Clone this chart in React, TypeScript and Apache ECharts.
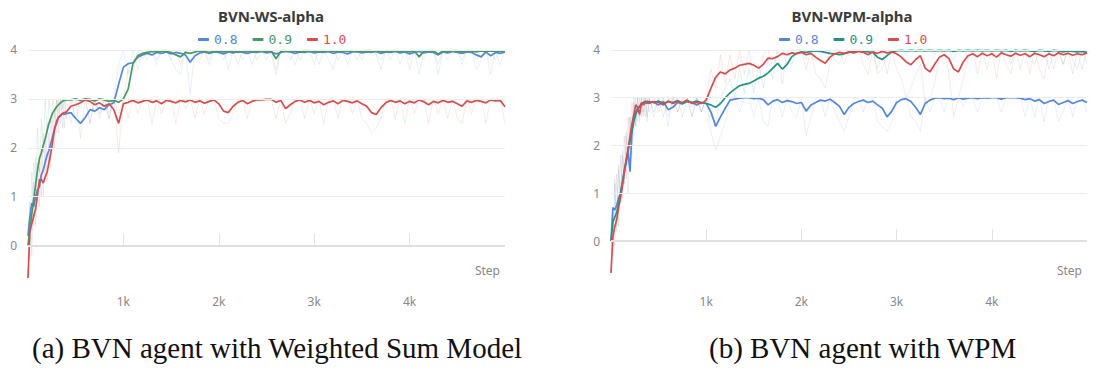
import React, { useEffect, useRef } from "react";
import * as echarts from "echarts";

const STEPS = [
  0, 20, 40, 60, 80, 100, 120, 140, 160, 180, 200, 220, 240, 260, 280, 300, 320, 340, 360, 380, 400,
  450, 500, 550, 600, 650, 700, 750, 800, 850, 900,
  950, 1000, 1050, 1100, 1150, 1200, 1250, 1300, 1350, 1400,
  1450, 1500, 1550, 1600, 1650, 1700, 1750, 1800, 1850, 1900,
  1950, 2000, 2050, 2100, 2150, 2200, 2250, 2300, 2350, 2400,
  2450, 2500, 2550, 2600, 2650, 2700, 2750, 2800, 2850, 2900,
  2950, 3000, 3050, 3100, 3150, 3200, 3250, 3300, 3350, 3400,
  3450, 3500, 3550, 3600, 3650, 3700, 3750, 3800, 3850, 3900,
  3950, 4000, 4050, 4100, 4150, 4200, 4250, 4300, 4350, 4400,
  4450, 4500, 4550, 4600, 4650, 4700, 4750, 4800, 4850, 4900,
  4950, 5000,
];

const SERIES_NAMES = ["0.8", "0.9", "1.0"];
const Y_TICKS = [0, 1, 2, 3, 4];
const X_TICKS = [1000, 2000, 3000, 4000];
const TITLES = ["BVN-WS-alpha", "BVN-WPM-alpha"];
const CAPTIONS = ["(a) BVN agent with Weighted Sum Model", "(b) BVN agent with WPM"];
const COLORS_WS = ["#5387dd", "#479a5f", "#da4c4c"];
const COLORS_WPM = ["#5387dd", "#229487", "#da4c4c"];

// ---- Left chart: BVN-WS-alpha (smoothed) ----
const WS_08 = [
  0.2, 0.6, 0.87, 0.8, 1.0, 1.15, 1.2, 1.45, 1.55, 1.7, 1.85, 1.95, 2.1, 2.25, 2.4, 2.5, 2.62, 2.65, 2.7, 2.68, 2.7,
  2.72, 2.6, 2.5, 2.62, 2.78, 2.75, 2.82, 2.78, 2.88, 2.92,
  3.3, 3.65, 3.72, 3.74, 3.85, 3.9, 3.93, 3.9, 3.95, 3.93,
  3.96, 3.92, 3.95, 3.93, 3.9, 3.75, 3.88, 3.94, 3.96, 3.93,
  3.96, 3.95, 3.92, 3.96, 3.94, 3.97, 3.95, 3.93, 3.96, 3.95,
  3.97, 3.94, 3.96, 3.92, 3.95, 3.97, 3.96, 3.93, 3.96, 3.95,
  3.97, 3.94, 3.96, 3.95, 3.97, 3.93, 3.96, 3.95, 3.92, 3.96,
  3.97, 3.94, 3.96, 3.95, 3.97, 3.93, 3.96, 3.95, 3.97, 3.94,
  3.96, 3.92, 3.95, 3.97, 3.94, 3.96, 3.95, 3.9, 3.96, 3.94,
  3.97, 3.95, 3.93, 3.96, 3.95, 3.9, 3.86, 3.96, 3.88, 3.95,
  3.93, 3.96,
];
const WS_09 = [
  0.0, 0.35, 0.65, 0.95, 1.25, 1.55, 1.78, 1.9, 2.05, 2.18, 2.35, 2.5, 2.62, 2.72, 2.78, 2.84, 2.88, 2.92, 2.95, 2.97, 2.98,
  2.98, 3.0, 2.97, 3.0, 2.99, 2.96, 3.0, 2.98, 2.95, 2.97,
  2.93, 3.0, 3.2, 3.72, 3.88, 3.93, 3.95, 3.97, 3.96, 3.98,
  3.97, 3.95, 3.9, 3.86, 3.95, 3.93, 3.96, 3.98, 3.97, 3.95,
  3.98, 3.97, 3.96, 3.98, 3.97, 3.95, 3.98, 3.97, 3.98, 3.96,
  3.98, 3.97, 3.98, 3.82, 3.97, 3.98, 3.97, 3.98, 3.96, 3.98,
  3.97, 3.98, 3.96, 3.98, 3.97, 3.98, 3.97, 3.98, 3.97, 3.98,
  3.96, 3.98, 3.97, 3.98, 3.97, 3.96, 3.98, 3.97, 3.98, 3.97,
  3.98, 3.96, 3.98, 3.86, 3.98, 3.97, 3.98, 3.92, 3.98, 3.97,
  3.98, 3.97, 3.96, 3.98, 3.97, 3.96, 3.98, 3.97, 3.98, 3.97,
  3.98, 3.97,
];
const WS_10 = [
  -0.66, 0.3, 0.45, 0.6, 0.75, 1.05, 1.35, 1.35, 1.28, 1.4, 1.5, 1.7, 1.9, 2.15, 2.4, 2.55, 2.63, 2.66, 2.7, 2.72, 2.73,
  2.85, 2.88, 2.92, 2.98, 2.95, 2.88, 2.92, 2.85, 2.9, 2.78,
  2.5, 2.9, 2.93, 2.97, 2.92, 2.95, 2.98, 2.93, 2.96, 2.9,
  2.97, 2.95, 2.92, 2.97, 2.94, 2.98, 2.93, 2.96, 2.91, 2.95,
  2.98, 2.9, 2.75, 2.72, 2.85, 2.93, 2.97, 2.9, 2.95, 2.98,
  2.98, 2.99, 2.99, 2.93, 2.97, 2.8, 2.88, 2.95, 2.98, 2.93,
  2.97, 2.92, 2.95, 2.88, 2.93, 2.96, 2.9, 2.97, 2.95, 2.92,
  2.96, 2.9, 2.85, 2.72, 2.68, 2.82, 2.92, 2.97, 2.93, 2.96,
  2.9, 2.95, 2.92, 2.98, 2.94, 2.88, 2.95, 2.92, 2.97, 2.93,
  2.95, 2.9, 2.85, 2.96, 2.93, 2.97, 2.95, 2.92, 2.98, 2.96,
  2.97, 2.84,
];

// ---- Left chart raw (faint) ----
const WS_08_RAW = [
  0.5, -0.3, 1.5, 0.4, 1.8, 0.9, 1.6, 1.0, 2.3, 1.4, 2.5, 1.7, 2.6, 2.0, 2.8, 2.3, 3.0, 2.5, 3.0, 2.4, 3.0,
  2.5, 3.0, 2.2, 3.0, 2.5, 3.0, 2.6, 3.0, 2.7, 3.0,
  3.7, 4.0, 3.5, 4.0, 3.6, 4.0, 3.8, 4.0, 3.7, 4.0,
  4.0, 3.8, 4.0, 3.7, 4.0, 3.1, 4.0, 3.8, 4.0, 3.7,
  4.0, 3.9, 4.0, 3.6, 4.0, 4.0, 3.8, 4.0, 3.7, 4.0,
  4.0, 3.8, 4.0, 3.6, 4.0, 4.0, 3.9, 3.7, 4.0, 4.0,
  4.0, 3.7, 4.0, 4.0, 3.8, 3.6, 4.0, 4.0, 3.7, 4.0,
  4.0, 3.8, 4.0, 4.0, 3.9, 3.6, 4.0, 3.8, 4.0, 3.7,
  4.0, 3.6, 4.0, 4.0, 3.8, 4.0, 4.0, 3.5, 4.0, 3.8,
  4.0, 4.0, 3.7, 4.0, 4.0, 3.6, 3.8, 4.0, 3.5, 4.0,
  3.7, 4.0,
];
const WS_09_RAW = [
  0.2, 0.9, 0.3, 1.7, 1.2, 2.4, 1.5, 2.6, 1.9, 3.0, 2.3, 3.0, 2.5, 3.0, 2.6, 3.0, 2.7, 3.0, 2.8, 3.0, 3.0,
  2.9, 3.0, 2.8, 3.0, 3.0, 2.7, 3.0, 2.9, 2.6, 3.0,
  2.7, 3.0, 3.6, 3.5, 4.0, 3.8, 4.0, 4.0, 3.8, 4.0,
  4.0, 3.8, 3.6, 3.5, 4.0, 3.8, 4.0, 4.0, 3.9, 3.8,
  4.0, 4.0, 3.8, 4.0, 4.0, 3.7, 4.0, 4.0, 4.0, 3.8,
  4.0, 4.0, 3.9, 3.5, 4.0, 4.0, 3.8, 4.0, 3.8, 4.0,
  4.0, 4.0, 3.7, 4.0, 4.0, 4.0, 3.8, 4.0, 4.0, 4.0,
  3.8, 4.0, 4.0, 4.0, 3.9, 3.8, 4.0, 4.0, 4.0, 3.9,
  4.0, 3.8, 4.0, 3.5, 4.0, 4.0, 4.0, 3.7, 4.0, 3.9,
  4.0, 4.0, 3.8, 4.0, 4.0, 3.8, 4.0, 3.9, 4.0, 3.8,
  4.0, 3.9,
];
const WS_10_RAW = [
  -0.7, 0.8, -0.2, 1.3, 0.4, 1.7, 0.8, 2.0, 1.0, 2.2, 1.3, 2.3, 1.6, 2.7, 2.0, 3.0, 2.3, 3.0, 2.4, 3.0, 2.6,
  3.0, 2.6, 3.0, 3.0, 2.5, 3.0, 2.7, 3.0, 2.6, 3.0,
  1.9, 3.0, 2.6, 3.0, 2.7, 3.0, 3.0, 2.5, 3.0, 2.7,
  3.0, 3.0, 2.5, 3.0, 2.8, 3.0, 2.6, 3.0, 2.7, 3.0,
  3.0, 2.6, 2.5, 2.5, 2.7, 3.0, 3.0, 2.6, 3.0, 3.0,
  3.0, 3.0, 3.0, 2.6, 3.0, 2.5, 2.7, 3.0, 3.0, 2.6,
  3.0, 2.7, 3.0, 2.5, 3.0, 3.0, 2.6, 3.0, 3.0, 2.7,
  3.0, 2.6, 2.5, 2.3, 2.4, 2.6, 3.0, 3.0, 2.6, 3.0,
  2.5, 3.0, 2.7, 3.0, 3.0, 2.5, 3.0, 2.7, 3.0, 2.6,
  3.0, 2.6, 2.5, 3.0, 2.7, 3.0, 3.0, 2.5, 3.0, 3.0,
  3.0, 2.5,
];

// ---- Right chart: BVN-WPM-alpha (smoothed) ----
const WPM_08 = [
  0.0, 0.7, 0.65, 0.75, 0.9, 1.0, 1.25, 1.5, 1.7, 1.85, 1.45, 2.3, 2.6, 2.72, 2.78, 2.8, 2.85, 2.88, 2.9, 2.88, 2.92,
  2.9, 2.85, 2.92, 2.75, 2.8, 2.9, 2.87, 2.93, 2.9, 2.85,
  2.9, 2.88, 2.7, 2.4, 2.6, 2.78, 2.95, 2.97, 2.99, 3.0,
  3.0, 2.98, 2.99, 2.96, 2.85, 2.93, 2.96, 2.9, 2.94, 2.92,
  2.88, 2.9, 2.72, 2.85, 2.9, 2.95, 2.93, 2.97, 2.9, 2.82,
  2.65, 2.8, 2.88, 2.92, 2.95, 2.9, 2.93, 2.85, 2.78, 2.6,
  2.72, 2.9, 2.96, 2.98, 2.92, 2.8, 2.65, 2.88, 2.95, 2.99,
  3.0, 2.98, 2.99, 2.96, 3.0, 2.97, 2.99, 3.0, 2.98, 3.0,
  2.99, 3.0, 3.0, 2.97, 3.0, 3.0, 3.0, 2.99, 2.96, 2.98,
  2.93, 2.96, 2.88, 2.92, 2.95, 2.86, 2.9, 2.94, 2.88, 2.92,
  2.95, 2.9,
];
const WPM_09 = [
  0.0, 0.4, 0.5, 0.6, 0.8, 1.0, 1.2, 1.45, 1.65, 1.9, 2.1, 2.3, 2.5, 2.65, 2.75, 2.82, 2.88, 2.9, 2.93, 2.9, 2.92,
  2.9, 2.93, 2.88, 2.92, 2.9, 2.94, 2.88, 2.92, 2.9, 2.93,
  2.9, 2.88, 2.85, 2.8, 2.88, 3.0, 3.1, 3.18, 3.25, 3.28,
  3.3, 3.35, 3.41, 3.45, 3.52, 3.62, 3.72, 3.6, 3.7, 3.86,
  3.93, 3.96, 3.95, 3.97, 3.98, 3.97, 3.95, 3.93, 3.92, 3.9,
  3.92, 3.95, 3.97, 3.98, 3.97, 3.96, 3.95, 3.85, 3.8, 3.88,
  3.96, 3.98, 3.99, 3.98, 3.99, 3.98, 3.99, 3.98, 3.99, 3.98,
  3.99, 3.98, 3.99, 3.97, 3.99, 3.98, 3.99, 3.98, 3.99, 3.98,
  3.99, 3.98, 3.99, 3.98, 3.99, 3.97, 3.99, 3.98, 3.99, 3.98,
  3.97, 3.99, 3.98, 3.97, 3.99, 3.98, 3.96, 3.98, 3.97, 3.96,
  3.97, 3.95,
];
const WPM_10 = [
  -0.67, 0.1, 0.3, 0.45, 0.7, 0.9, 1.15, 1.45, 1.7, 1.95, 2.2, 2.45, 2.65, 2.85, 2.8, 2.65, 2.9, 2.85, 2.9, 2.93, 2.88,
  2.92, 2.9, 2.85, 2.93, 2.88, 2.92, 2.9, 2.95, 2.88, 2.9,
  2.88, 2.95, 3.2, 3.43, 3.54, 3.5, 3.58, 3.62, 3.68, 3.7,
  3.72, 3.68, 3.62, 3.7, 3.83, 3.82, 3.86, 3.93, 3.9, 3.94,
  3.92, 3.95, 3.9, 3.93, 3.85, 3.78, 3.72, 3.85, 3.92, 3.95,
  3.93, 3.96, 3.94, 3.97, 3.95, 3.9, 3.96, 3.93, 3.97, 3.94,
  3.96, 3.92, 3.85, 3.75, 3.69, 3.8, 3.88, 3.62, 3.54, 3.7,
  3.85, 3.9, 3.82, 3.6, 3.54, 3.75, 3.88, 3.92, 3.86, 3.93,
  3.88, 3.92, 3.85, 3.94, 3.9, 3.87, 3.93, 3.89, 3.92, 3.86,
  3.93, 3.9, 3.86, 3.92, 3.88, 3.94, 3.9, 3.93, 3.89, 3.92,
  3.9, 3.94,
];

// ---- Right chart raw (faint) ----
const WPM_08_RAW = [
  0.5, -0.2, 1.2, 0.3, 1.6, 0.8, 1.9, 1.2, 2.2, 1.0, 2.6, 1.8, 3.0, 2.4, 3.0, 2.5, 3.0, 2.6, 3.0, 2.5, 3.0,
  2.6, 3.0, 3.0, 2.4, 3.0, 2.7, 3.0, 3.0, 2.6, 3.0,
  2.7, 3.0, 2.3, 1.9, 2.2, 2.5, 3.0, 3.0, 2.7, 3.0,
  3.0, 2.6, 3.0, 2.5, 2.4, 3.0, 3.0, 2.6, 3.0, 2.7,
  2.6, 3.0, 2.2, 2.6, 3.0, 3.0, 2.6, 3.0, 2.7, 2.5,
  2.3, 2.6, 3.0, 3.0, 2.7, 3.0, 3.0, 2.5, 2.4, 2.3,
  2.5, 3.0, 3.0, 3.0, 2.6, 2.5, 2.3, 3.0, 2.7, 3.0,
  3.0, 2.7, 3.0, 3.0, 3.0, 2.8, 3.0, 3.0, 2.7, 3.0,
  3.0, 3.0, 3.0, 2.7, 3.0, 3.0, 3.0, 3.0, 2.6, 3.0,
  2.6, 3.0, 2.5, 3.0, 3.0, 2.5, 2.7, 3.0, 2.6, 3.0,
  3.0, 2.7,
];
const WPM_09_RAW = [
  0.3, -0.3, 1.3, 0.2, 1.5, 0.9, 1.8, 1.2, 2.3, 1.6, 2.6, 2.0, 2.9, 2.4, 3.0, 2.6, 3.0, 2.7, 3.0, 2.6, 3.0,
  2.7, 3.0, 2.6, 3.0, 2.8, 3.0, 2.6, 3.0, 2.8, 3.0,
  2.7, 3.0, 2.6, 2.5, 3.0, 3.2, 3.4, 3.0, 3.6, 3.1,
  3.6, 3.1, 3.7, 3.2, 3.8, 3.4, 4.0, 3.3, 4.0, 3.7,
  4.0, 4.0, 3.8, 4.0, 4.0, 3.9, 3.7, 4.0, 3.8, 3.7,
  4.0, 3.9, 4.0, 4.0, 4.0, 3.8, 4.0, 3.5, 3.6, 3.9,
  4.0, 4.0, 4.0, 3.9, 4.0, 4.0, 4.0, 4.0, 4.0, 3.9,
  4.0, 4.0, 4.0, 3.8, 4.0, 4.0, 4.0, 4.0, 4.0, 4.0,
  4.0, 3.9, 4.0, 4.0, 4.0, 3.7, 4.0, 4.0, 4.0, 3.8,
  3.7, 4.0, 4.0, 3.6, 4.0, 4.0, 3.7, 4.0, 3.8, 3.6,
  4.0, 3.7,
];
const WPM_10_RAW = [
  -0.67, 0.6, -0.1, 1.4, 0.3, 1.8, 0.9, 2.2, 1.3, 2.6, 1.7, 2.9, 2.2, 3.0, 2.5, 3.0, 2.6, 3.0, 2.6, 3.0, 2.7,
  3.0, 2.7, 3.0, 2.6, 3.0, 2.7, 3.0, 3.0, 2.6, 3.0,
  2.7, 3.0, 3.6, 3.2, 3.9, 3.3, 3.9, 3.4, 4.0, 3.5,
  4.0, 3.4, 3.3, 3.9, 4.0, 3.6, 4.0, 4.0, 3.7, 4.0,
  4.0, 4.0, 3.6, 4.0, 3.5, 3.4, 3.2, 3.7, 4.0, 4.0,
  3.7, 4.0, 4.0, 4.0, 3.7, 3.5, 4.0, 3.6, 4.0, 3.5,
  4.0, 3.6, 3.4, 3.0, 3.2, 3.5, 3.7, 2.9, 3.0, 3.3,
  3.9, 4.0, 3.5, 2.6, 3.0, 3.4, 3.8, 4.0, 3.5, 4.0,
  3.6, 4.0, 3.4, 4.0, 3.7, 3.5, 4.0, 3.6, 4.0, 3.5,
  4.0, 3.6, 3.4, 4.0, 3.6, 4.0, 3.7, 4.0, 3.5, 4.0,
  3.6, 4.0,
];

const SMOOTH = [
  [WS_08, WS_09, WS_10],
  [WPM_08, WPM_09, WPM_10],
];
const RAW = [
  [WS_08_RAW, WS_09_RAW, WS_10_RAW],
  [WPM_08_RAW, WPM_09_RAW, WPM_10_RAW],
];
const PALETTES = [COLORS_WS, COLORS_WPM];

const SANS = '"Noto Sans", "Open Sans", sans-serif';
const MONO = '"DejaVu Sans Mono", monospace';

function pairs(arr: number[]) {
  return STEPS.map((s, i) => [s, arr[i]]);
}

export default function App() {
  const ref = useRef<HTMLDivElement>(null);
  useEffect(() => {
    document.body.style.margin = "0";
    if (!ref.current) return;
    const chart = echarts.init(ref.current, null, { renderer: "svg" });

    const layout = [
      { left: 28, top: 45.1, width: 477, height: 239.7, yMin: -0.8, yMax: 4.1, titleX: 266, legendX: 193, stepX: 500 },
      { left: 611, top: 45.2, width: 476, height: 238.8, yMin: -0.9, yMax: 4.1, titleX: 847, legendX: 774, stepX: 1082 },
    ];

    const series: any[] = [];
    layout.forEach((g, gi) => {
      RAW[gi].forEach((arr, si) => {
        const s: any = {
          type: "line",
          name: SERIES_NAMES[si] + " raw",
          xAxisIndex: gi,
          yAxisIndex: gi,
          data: pairs(arr),
          showSymbol: false,
          silent: true,
          z: 1,
          lineStyle: { width: 1, color: PALETTES[gi][si], opacity: 0.13 },
          itemStyle: { color: PALETTES[gi][si] },
        };
        if (si === 0) {
          s.markLine = {
            silent: true,
            symbol: ["none", "none"],
            label: { show: false },
            lineStyle: { color: "#ededed", width: 1, type: "solid" },
            data: Y_TICKS.map((v) =>
              v === 0
                ? { yAxis: v, lineStyle: { color: "#e0e0e0", width: 2, type: "solid" } }
                : { yAxis: v }
            ),
          };
        }
        series.push(s);
      });
      SMOOTH[gi].forEach((arr, si) => {
        series.push({
          type: "line",
          name: SERIES_NAMES[si],
          xAxisIndex: gi,
          yAxisIndex: gi,
          data: pairs(arr),
          showSymbol: false,
          z: 3,
          lineStyle: { width: 1.7, color: PALETTES[gi][si] },
          itemStyle: { color: PALETTES[gi][si] },
        });
      });
    });

    const option: any = {
      animation: false,
      backgroundColor: "#ffffff",
      textStyle: { fontFamily: SANS },
      title: layout.map((g, gi) => ({
        text: TITLES[gi],
        left: g.titleX,
        top: 3,
        textAlign: "center",
        textStyle: { fontSize: 15, fontWeight: "bold", color: "#3b3b3b", fontFamily: SANS },
      })),
      legend: layout.map((g, gi) => ({
        left: g.legendX,
        top: 28,
        itemWidth: 11,
        itemHeight: 3,
        itemGap: 15,
        icon: "roundRect",
        selectedMode: false,
        textStyle: { fontFamily: MONO, fontSize: 13, padding: [0, 0, 0, 0] },
        data: SERIES_NAMES.map((n, si) => ({
          name: n,
          itemStyle: { color: PALETTES[gi][si] },
          textStyle: { color: PALETTES[gi][si] },
        })),
      })),
      grid: layout.map((g) => ({ left: g.left, top: g.top, width: g.width, height: g.height, containLabel: false })),
      xAxis: layout.map((g, gi) => ({
        type: "value",
        gridIndex: gi,
        min: 0,
        max: 5000,
        axisLine: { show: false },
        splitLine: { show: false },
        axisTick: {
          show: true,
          inside: true,
          length: 12,
          customValues: X_TICKS,
          lineStyle: { color: "#e3e3e3", width: 1 },
        },
        axisLabel: {
          customValues: X_TICKS,
          formatter: (v: number) => v / 1000 + "k",
          color: "#888888",
          fontSize: 12,
          margin: 11,
          fontFamily: SANS,
        },
      })),
      yAxis: layout.map((g, gi) => ({
        type: "value",
        gridIndex: gi,
        min: g.yMin,
        max: g.yMax,
        axisLine: { show: false },
        splitLine: { show: false },
        axisTick: { show: false, customValues: Y_TICKS },
        axisLabel: {
          customValues: Y_TICKS,
          color: "#888888",
          fontSize: 12,
          margin: 11,
          fontFamily: SANS,
        },
      })),
      graphic: [
        ...layout.map((g) => ({
          type: "text",
          x: g.stepX,
          y: 270,
          silent: true,
          style: { text: "Step", align: "right", verticalAlign: "middle", fill: "#888888", font: `12px ${SANS}` },
        })),
        {
          type: "text",
          x: 32,
          y: 348,
          silent: true,
          style: { text: CAPTIONS[0], align: "left", verticalAlign: "middle", fill: "#111111", font: '29px "Liberation Serif", serif' },
        },
        {
          type: "text",
          x: 709,
          y: 348,
          silent: true,
          style: { text: CAPTIONS[1], align: "left", verticalAlign: "middle", fill: "#111111", font: '29px "Liberation Serif", serif' },
        },
      ],
      series,
    };

    chart.setOption(option);
    return () => chart.dispose();
  }, []);
  return <div ref={ref} style={{ width: 1094, height: 375 }} />;
}
